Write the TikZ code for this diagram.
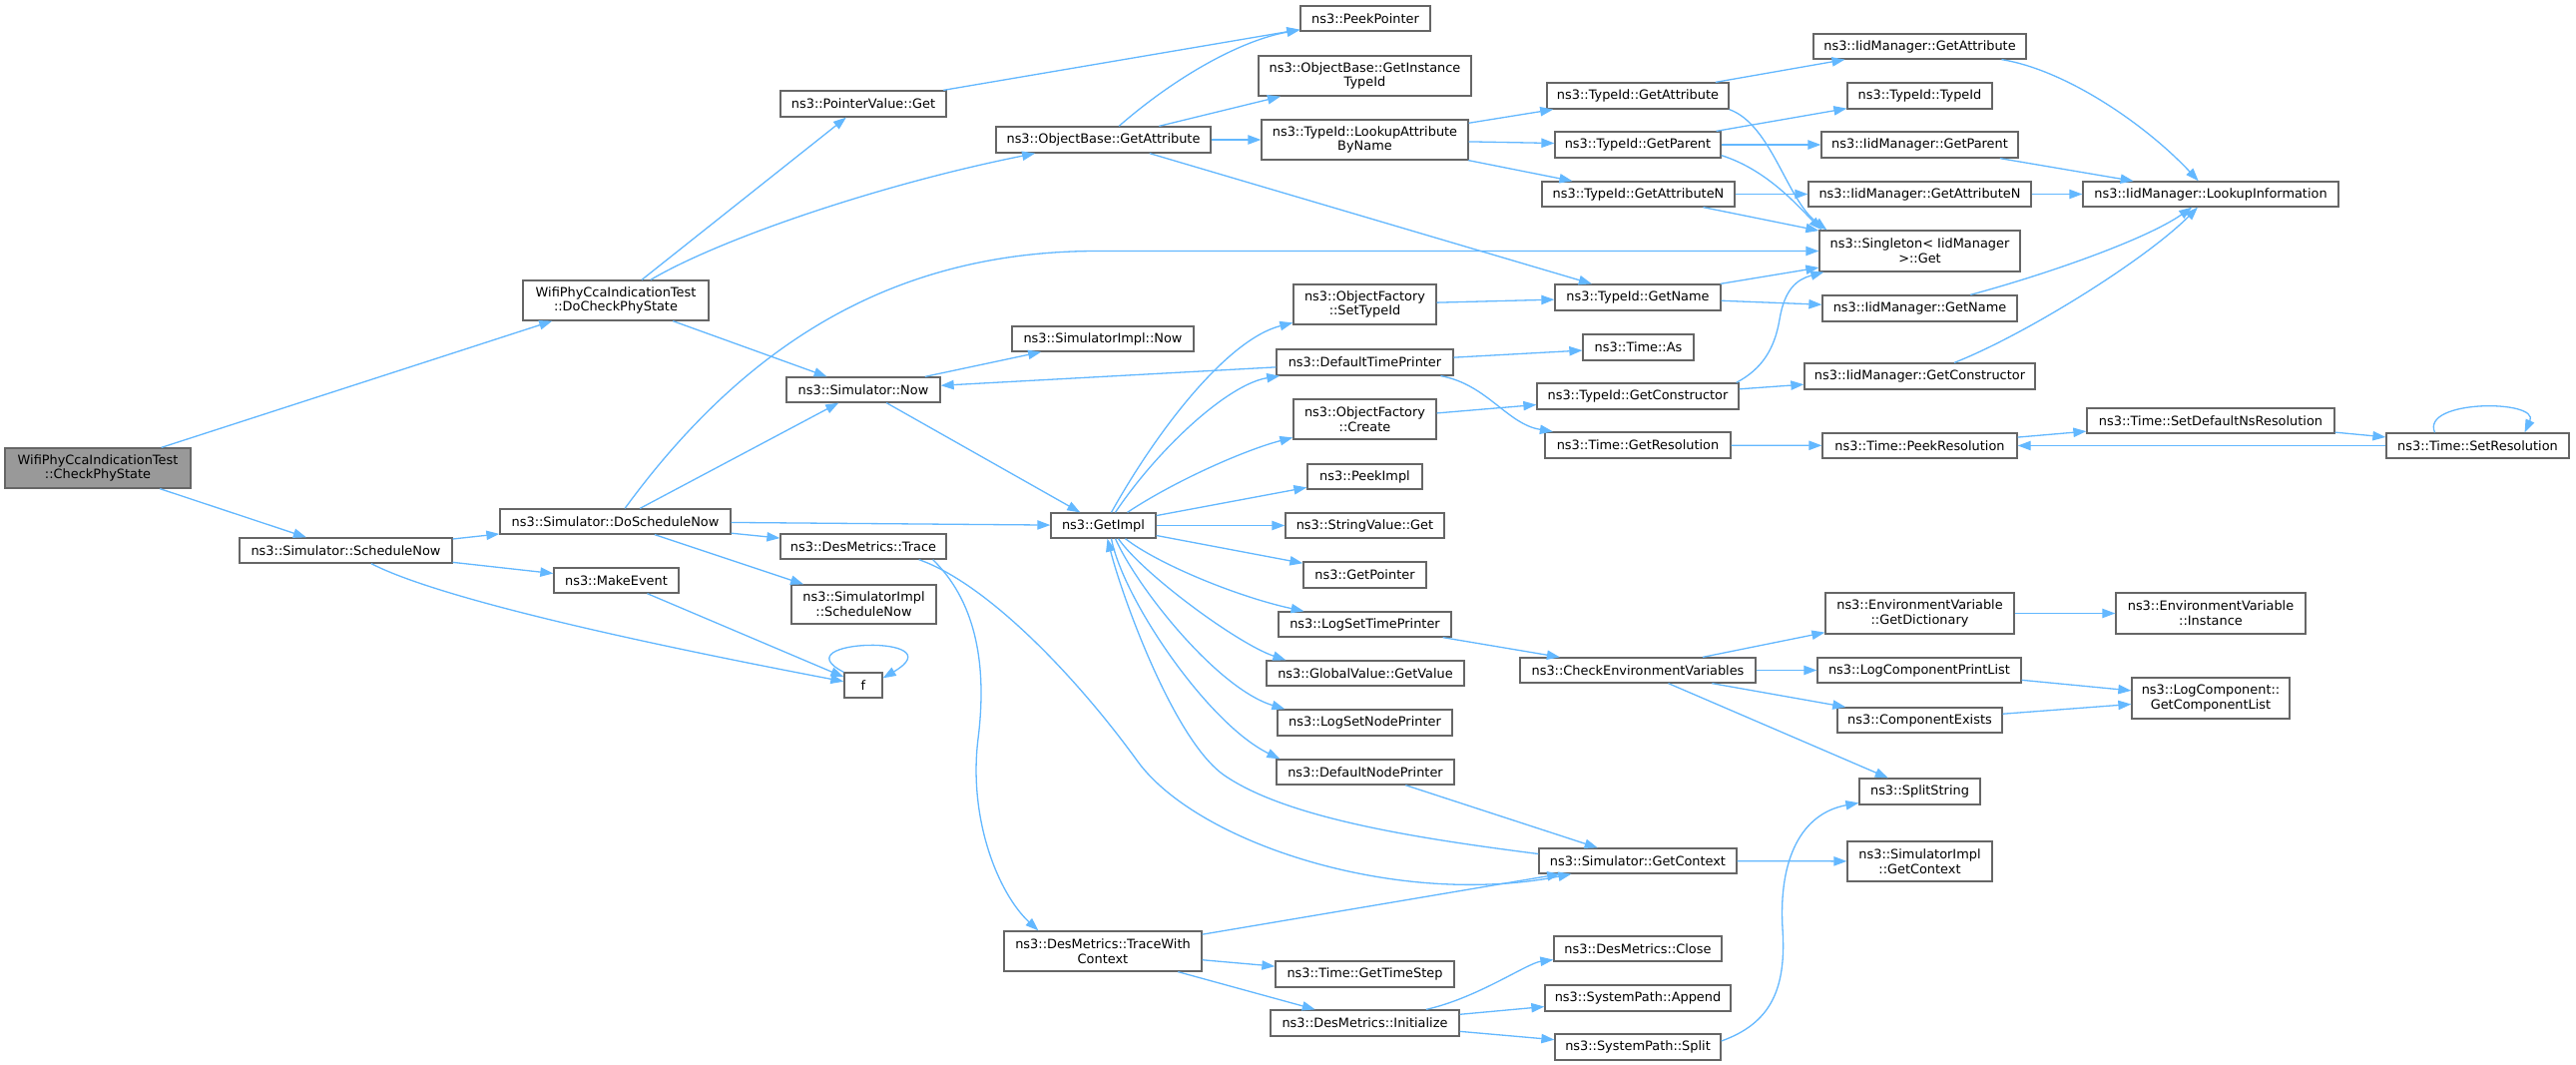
\documentclass[tikz,border=0pt]{standalone}
\usepackage{fontspec}
\setmainfont{DejaVu Sans}
\usetikzlibrary{arrows.meta}
\definecolor{edgeblue}{HTML}{63B8FF}
\definecolor{nborder}{HTML}{666666}
\definecolor{rootfill}{HTML}{999999}
\newcommand{\mknode}[7][]{\node[nbox,#1, minimum width={#5-#3}, minimum height={#6-#4}] (#2) at ({(#3+#5)/2},{(#4+#6)/2}) {#7};}
\begin{document}
\begin{tikzpicture}[x=1pt,y=-1pt,
  nbox/.style={draw=nborder, line width=1.3pt, fill=white, inner sep=0pt, align=center, font={\fontsize{12.9}{14.7}\selectfont}},
  conn/.style={draw=edgeblue, line width=1.3pt, -{Triangle[length=13pt,width=9.3pt]}}]
\fill[white] (0,0) rectangle (2581,1067);
\useasboundingbox (0,0) rectangle (2581,1067);
% nodes
\mknode[fill=rootfill]{root}{5}{449}{191}{489}{WifiPhyCcaIndicationTest\\::CheckPhyState}
\mknode{schedNow}{240}{539}{453}{564}{ns3::Simulator::ScheduleNow}
\mknode{doCheck}{524}{281}{710}{321}{WifiPhyCcaIndicationTest\\::DoCheckPhyState}
\mknode{ptrGet}{782}{91}{948}{117}{ns3::PointerValue::Get}
\mknode{peekPtr}{1303}{6}{1433}{31}{ns3::PeekPointer}
\mknode{instTid}{1261}{56}{1474}{96}{ns3::ObjectBase::GetInstance\\TypeId}
\mknode{obGetAttr}{998}{127}{1213}{153}{ns3::ObjectBase::GetAttribute}
\mknode{lookupAttr}{1264}{120}{1471}{160}{ns3::TypeId::LookupAttribute\\ByName}
\mknode{tidGetAttr}{1550}{83}{1732}{109}{ns3::TypeId::GetAttribute}
\mknode{tidGetParent}{1558}{132}{1724}{158}{ns3::TypeId::GetParent}
\mknode{tidGetAttrN}{1545}{182}{1738}{207}{ns3::TypeId::GetAttributeN}
\mknode{tidGetName}{1558}{285}{1724}{311}{ns3::TypeId::GetName}
\mknode{setTypeId}{1296}{285}{1439}{325}{ns3::ObjectFactory\\::SetTypeId}
\mknode{simImplNow}{1014}{327}{1196}{352}{ns3::SimulatorImpl::Now}
\mknode{timeAs}{1586}{335}{1697}{361}{ns3::Time::As}
\mknode{defTimePr}{1279}{350}{1456}{376}{ns3::DefaultTimePrinter}
\mknode{iidGetAttr}{1817}{34}{2030}{59}{ns3::IidManager::GetAttribute}
\mknode{tidTid}{1851}{83}{1996}{109}{ns3::TypeId::TypeId}
\mknode{iidGetParent}{1825}{132}{2022}{158}{ns3::IidManager::GetParent}
\mknode{iidGetAttrN}{1812}{182}{2035}{207}{ns3::IidManager::GetAttributeN}
\mknode{lookupInfo}{2087}{182}{2343}{207}{ns3::IidManager::LookupInformation}
\mknode{singleton}{1823}{231}{2024}{272}{ns3::Singleton< IidManager\\ >::Get}
\mknode{iidGetName}{1826}{296}{2021}{322}{ns3::IidManager::GetName}
\mknode{doSched}{501}{510}{732}{535}{ns3::Simulator::DoScheduleNow}
\mknode{makeEvent}{555}{569}{680}{594}{ns3::MakeEvent}
\mknode{simNow}{788}{378}{942}{403}{ns3::Simulator::Now}
\mknode{desTrace}{782}{535}{948}{560}{ns3::DesMetrics::Trace}
\mknode{simImplSched}{793}{586}{938}{625}{ns3::SimulatorImpl\\::ScheduleNow}
\mknode{f}{846}{674}{884}{699}{f}
\mknode{getImpl}{1053}{514}{1158}{539}{ns3::GetImpl}
\mknode{ofCreate}{1296}{400}{1439}{440}{ns3::ObjectFactory\\::Create}
\mknode{peekImpl}{1310}{465}{1425}{490}{ns3::PeekImpl}
\mknode{strGet}{1288}{514}{1447}{539}{ns3::StringValue::Get}
\mknode{getPointer}{1306}{563}{1429}{589}{ns3::GetPointer}
\mknode{logSetTime}{1281}{613}{1454}{638}{ns3::LogSetTimePrinter}
\mknode{gvGet}{1269}{662}{1467}{687}{ns3::GlobalValue::GetValue}
\mknode{checkEnv}{1523}{659}{1759}{684}{ns3::CheckEnvironmentVariables}
\mknode{tidGetCtor}{1540}{384}{1742}{410}{ns3::TypeId::GetConstructor}
\mknode{timeGetRes}{1548}{433}{1734}{459}{ns3::Time::GetResolution}
\mknode{iidGetCtor}{1808}{364}{2039}{390}{ns3::IidManager::GetConstructor}
\mknode{peekRes}{1826}{434}{2021}{459}{ns3::Time::PeekResolution}
\mknode{setDefNs}{2091}{409}{2339}{434}{ns3::Time::SetDefaultNsResolution}
\mknode{setRes}{2391}{434}{2574}{459}{ns3::Time::SetResolution}
\mknode{getDict}{1829}{594}{2018}{635}{ns3::EnvironmentVariable\\::GetDictionary}
\mknode{envInst}{2120}{594}{2310}{635}{ns3::EnvironmentVariable\\::Instance}
\mknode{logCompPrint}{1821}{659}{2025}{684}{ns3::LogComponentPrintList}
\mknode{getCompList}{2136}{679}{2294}{720}{ns3::LogComponent::\\GetComponentList}
\mknode{compExists}{1841}{709}{2006}{734}{ns3::ComponentExists}
\mknode{splitString}{1863}{780}{1984}{806}{ns3::SplitString}
\mknode{simImplGetCtx}{1851}{843}{1996}{883}{ns3::SimulatorImpl\\::GetContext}
\mknode{logSetNode}{1280}{711}{1455}{737}{ns3::LogSetNodePrinter}
\mknode{defNodePr}{1279}{761}{1457}{786}{ns3::DefaultNodePrinter}
\mknode{getCtx}{1542}{850}{1740}{875}{ns3::Simulator::GetContext}
\mknode{traceCtx}{1006}{933}{1204}{973}{ns3::DesMetrics::TraceWith\\Context}
\mknode{getTimeStep}{1278}{963}{1457}{989}{ns3::Time::GetTimeStep}
\mknode{desInit}{1273}{1012}{1462}{1038}{ns3::DesMetrics::Initialize}
\mknode{desClose}{1557}{938}{1725}{963}{ns3::DesMetrics::Close}
\mknode{spAppend}{1548}{987}{1734}{1013}{ns3::SystemPath::Append}
\mknode{spSplit}{1558}{1036}{1724}{1062}{ns3::SystemPath::Split}
% edges
\draw[conn] (root) -- (doCheck);
\draw[conn] (root) -- (schedNow);
\draw[conn] (doCheck) -- (ptrGet);
\draw[conn] (doCheck) .. controls (720,240) and (880,185) .. (obGetAttr);
\draw[conn] (doCheck) -- (simNow);
\draw[conn] (ptrGet) -- (peekPtr);
\draw[conn] (obGetAttr) .. controls (1180,75) and (1245,40) .. (peekPtr);
\draw[conn] (obGetAttr) -- (instTid);
\draw[conn] (obGetAttr) -- (lookupAttr);
\draw[conn] (obGetAttr) -- (tidGetName);
\draw[conn] (lookupAttr) -- (tidGetAttr);
\draw[conn] (lookupAttr) -- (tidGetParent);
\draw[conn] (lookupAttr) -- (tidGetAttrN);
\draw[conn] (tidGetAttr) -- (iidGetAttr);
\draw[conn] (tidGetAttr.south east) .. controls (1775,125) and (1790,200) .. ([xshift=8pt]singleton.north west);
\draw[conn] (tidGetParent) -- (tidTid);
\draw[conn] (tidGetParent) -- (iidGetParent);
\draw[conn] ([yshift=3pt]tidGetParent.south east) .. controls (1770,170) and (1800,205) .. ([xshift=3pt]singleton.north west);
\draw[conn] (tidGetAttrN) -- (iidGetAttrN);
\draw[conn] (tidGetAttrN) -- (singleton);
\draw[conn] (iidGetAttr) .. controls (2070,70) and (2150,125) .. (lookupInfo);
\draw[conn] (iidGetParent) -- (lookupInfo);
\draw[conn] (iidGetAttrN) -- (lookupInfo);
\draw[conn] (iidGetName) .. controls (2050,275) and (2150,240) .. (lookupInfo);
\draw[conn] (iidGetCtor) .. controls (2030,335) and (2150,260) .. (lookupInfo);
\draw[conn] (tidGetName) -- (singleton);
\draw[conn] (tidGetName) -- (iidGetName);
\draw[conn] ([xshift=-3pt]tidGetCtor.north east) .. controls (1765,370) and (1778,350) .. (1783,320) .. controls (1788,290) and (1800,280) .. ([xshift=5pt]singleton.south west);
\draw[conn] (tidGetCtor) -- (iidGetCtor);
\draw[conn] (doSched) .. controls (750,340) and (900,251.5) .. (1100,251.5) -- (singleton);
\draw[conn] (doSched) -- (simNow);
\draw[conn] (doSched) -- (getImpl);
\draw[conn] (doSched) -- (desTrace);
\draw[conn] (doSched) -- (simImplSched);
\draw[conn] (schedNow) -- (doSched);
\draw[conn] (schedNow) -- (makeEvent);
\draw[conn] (schedNow) .. controls (450,605) and (700,655) .. (f);
\draw[conn] (makeEvent) -- (f);
\draw[conn] (f.north west) .. controls (780,640) and (960,635) .. ([yshift=-6pt]f.north east);
\draw[conn] (simNow) -- (simImplNow);
\draw[conn] (simNow) -- (getImpl);
\draw[conn] (defTimePr) -- (simNow);
\draw[conn] (defTimePr) -- (timeAs);
\draw[conn] (defTimePr) .. controls (1490,385) and (1510,425) .. (timeGetRes);
\draw[conn] ([xshift=8pt]getImpl.north) .. controls (1160,430) and (1230,340) .. (setTypeId);
\draw[conn] ([xshift=12pt]getImpl.north) .. controls (1160,450) and (1230,385) .. (defTimePr);
\draw[conn] ([xshift=24pt]getImpl.north) .. controls (1180,480) and (1250,450) .. (ofCreate);
\draw[conn] (getImpl) -- (peekImpl);
\draw[conn] (getImpl) -- (strGet);
\draw[conn] (getImpl) -- (getPointer);
\draw[conn] ([xshift=22pt]getImpl.south) .. controls (1160,565) and (1240,598) .. (logSetTime);
\draw[conn] ([xshift=15pt]getImpl.south) .. controls (1145,575) and (1240,645) .. ([xshift=20pt]gvGet.north west);
\draw[conn] ([xshift=12pt]getImpl.south) .. controls (1140,590) and (1220,690) .. ([xshift=8pt]logSetNode.north west);
\draw[conn] ([xshift=8pt]getImpl.south) .. controls (1125,600) and (1210,725) .. ([xshift=4pt]defNodePr.north west);
\draw[conn] ([yshift=7pt]getCtx.west) .. controls (1420,840) and (1290,820) .. (1227,777) .. controls (1177,743) and (1125,600) .. ([xshift=4pt]getImpl.south);
\draw[conn] ([xshift=-28pt]desTrace.south east) .. controls (990,585) and (1080,680) .. (1140,763) .. controls (1200,845) and (1400,910) .. (getCtx);
\draw[conn] ([xshift=-14pt]desTrace.south east) .. controls (975,600) and (990,660) .. (980,740) .. controls (970,820) and (1000,895) .. ([xshift=35pt]traceCtx.north west);
\draw[conn] (traceCtx) -- (getCtx);
\draw[conn] (traceCtx) -- (getTimeStep);
\draw[conn] (traceCtx) -- (desInit);
\draw[conn] (desInit) .. controls (1480,1000) and (1530,965) .. (desClose);
\draw[conn] (desInit) -- (spAppend);
\draw[conn] (desInit) -- (spSplit);
\draw[conn] ([yshift=6pt]spSplit.east) .. controls (1775,1025) and (1790,990) .. (1786,930) .. controls (1782,860) and (1805,815) .. (splitString);
\draw[conn] (setTypeId) -- (tidGetName);
\draw[conn] (ofCreate) -- (tidGetCtor);
\draw[conn] (timeGetRes) -- (peekRes);
\draw[conn] (peekRes) -- (setDefNs);
\draw[conn] (setDefNs) -- (setRes);
\draw[conn] (setRes) -- (peekRes);
\draw[conn] ([xshift=-43pt]setRes.north) .. controls (2425,400) and (2545,400) .. ([xshift=47pt]setRes.north);
\draw[conn] (logSetTime) -- (checkEnv);
\draw[conn] (checkEnv) -- (getDict);
\draw[conn] (checkEnv) -- (logCompPrint);
\draw[conn] (checkEnv) -- (compExists);
\draw[conn] (checkEnv) -- (splitString);
\draw[conn] (getDict) -- (envInst);
\draw[conn] (logCompPrint) -- (getCompList);
\draw[conn] (compExists) -- (getCompList);
\draw[conn] (getCtx) -- (simImplGetCtx);
\draw[conn] (defNodePr) -- (getCtx);
\end{tikzpicture}
\end{document}
